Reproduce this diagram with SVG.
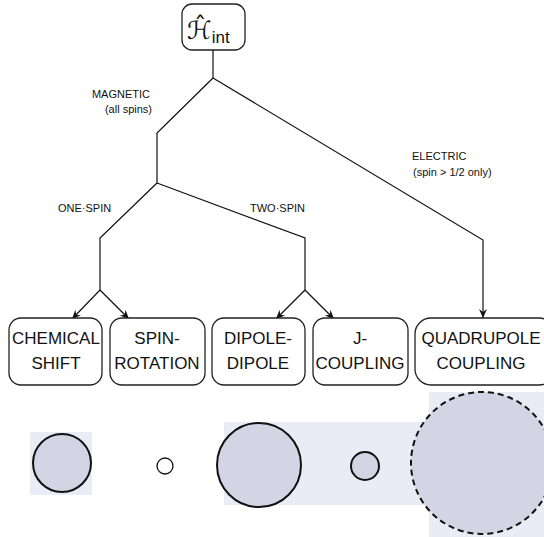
<svg xmlns="http://www.w3.org/2000/svg" width="544" height="537" viewBox="0 0 544 537">
<defs>
<marker id="ah" markerWidth="10" markerHeight="10" refX="9" refY="5" orient="auto" markerUnits="userSpaceOnUse">
<path d="M0,1 L9,5 L0,9 L3,5 Z" fill="#111"/>
</marker>
</defs>
<style>
.box{fill:#fff;stroke:#222;stroke-width:1.3}
.bt{font-family:"Liberation Sans",Arial,sans-serif;font-size:17px;fill:#111;text-anchor:middle}
.lb{font-family:"Liberation Sans",Arial,sans-serif;font-size:11px;fill:#111}
.ln{fill:none;stroke:#111;stroke-width:1.2}
.bg{fill:#ebebf5}
.disk{fill:#d4d4e4;stroke:#111;stroke-width:2}
</style>
<rect width="544" height="537" fill="#fff"/>

<g id="root">
<rect class="box" x="182" y="4" width="63" height="46" rx="10"/>
<text x="187" y="39" font-family="DejaVu Sans,sans-serif" font-size="25" fill="#111">ℋ̂<tspan font-family="Liberation Sans,Arial,sans-serif" font-size="17" dy="4">int</tspan></text>
</g>

<g id="connectors">
<path class="ln" d="M213,50 V78"/>
<path class="ln" d="M213,78 L157,133 V183"/>
<path class="ln" d="M213,78 L483,240 V318" marker-end="url(#ah)"/>
<path class="ln" d="M157,183 L100,238 V290"/>
<path class="ln" d="M157,183 L305,238 V290"/>
<path class="ln" d="M100,290 L72,319" marker-end="url(#ah)"/>
<path class="ln" d="M100,290 L129,319" marker-end="url(#ah)"/>
<path class="ln" d="M305,290 L276,319" marker-end="url(#ah)"/>
<path class="ln" d="M305,290 L334,319" marker-end="url(#ah)"/>
</g>

<g id="labels">
<text class="lb" x="150" y="98" text-anchor="end">MAGNETIC</text>
<text class="lb" x="152" y="113" text-anchor="end">(all spins)</text>
<text class="lb" x="412" y="160">ELECTRIC</text>
<text class="lb" x="413" y="176">(spin &gt; 1/2 only)</text>
<text class="lb" x="58" y="212">ONE·SPIN</text>
<text class="lb" x="250" y="212">TWO·SPIN</text>
</g>

<g id="chemical-shift">
<rect class="box" x="9" y="318" width="93" height="67" rx="12"/>
<text class="bt" x="56" y="344">CHEMICAL</text>
<text class="bt" x="56" y="369">SHIFT</text>
</g>
<g id="spin-rotation">
<rect class="box" x="110" y="318" width="95" height="67" rx="12"/>
<text class="bt" x="157" y="344">SPIN-</text>
<text class="bt" x="157" y="369">ROTATION</text>
</g>
<g id="dipole-dipole">
<rect class="box" x="212" y="318" width="93" height="67" rx="12"/>
<text class="bt" x="258" y="344">DIPOLE-</text>
<text class="bt" x="258" y="369">DIPOLE</text>
</g>
<g id="j-coupling">
<rect class="box" x="313" y="318" width="95" height="67" rx="12"/>
<text class="bt" x="360" y="344">J-</text>
<text class="bt" x="360" y="369">COUPLING</text>
</g>
<g id="quadrupole-coupling">
<rect class="box" x="415" y="318" width="140" height="67" rx="16"/>
<text class="bt" x="481" y="344">QUADRUPOLE</text>
<text class="bt" x="481" y="369">COUPLING</text>
</g>

<g id="sizes">
<rect class="bg" x="30" y="432" width="62" height="63"/>
<circle class="disk" cx="62" cy="463" r="29"/>
<circle cx="165" cy="466" r="8" fill="#fff" stroke="#111" stroke-width="1.3"/>
<rect class="bg" x="224" y="422" width="205" height="83"/>
<circle class="disk" cx="259" cy="465" r="42"/>
<circle class="disk" cx="365" cy="466" r="14"/>
<rect class="bg" x="429" y="392" width="115" height="145"/>
<circle class="disk" cx="482" cy="463" r="71" stroke-width="2.5" stroke-dasharray="6,4"/>
</g>
</svg>
